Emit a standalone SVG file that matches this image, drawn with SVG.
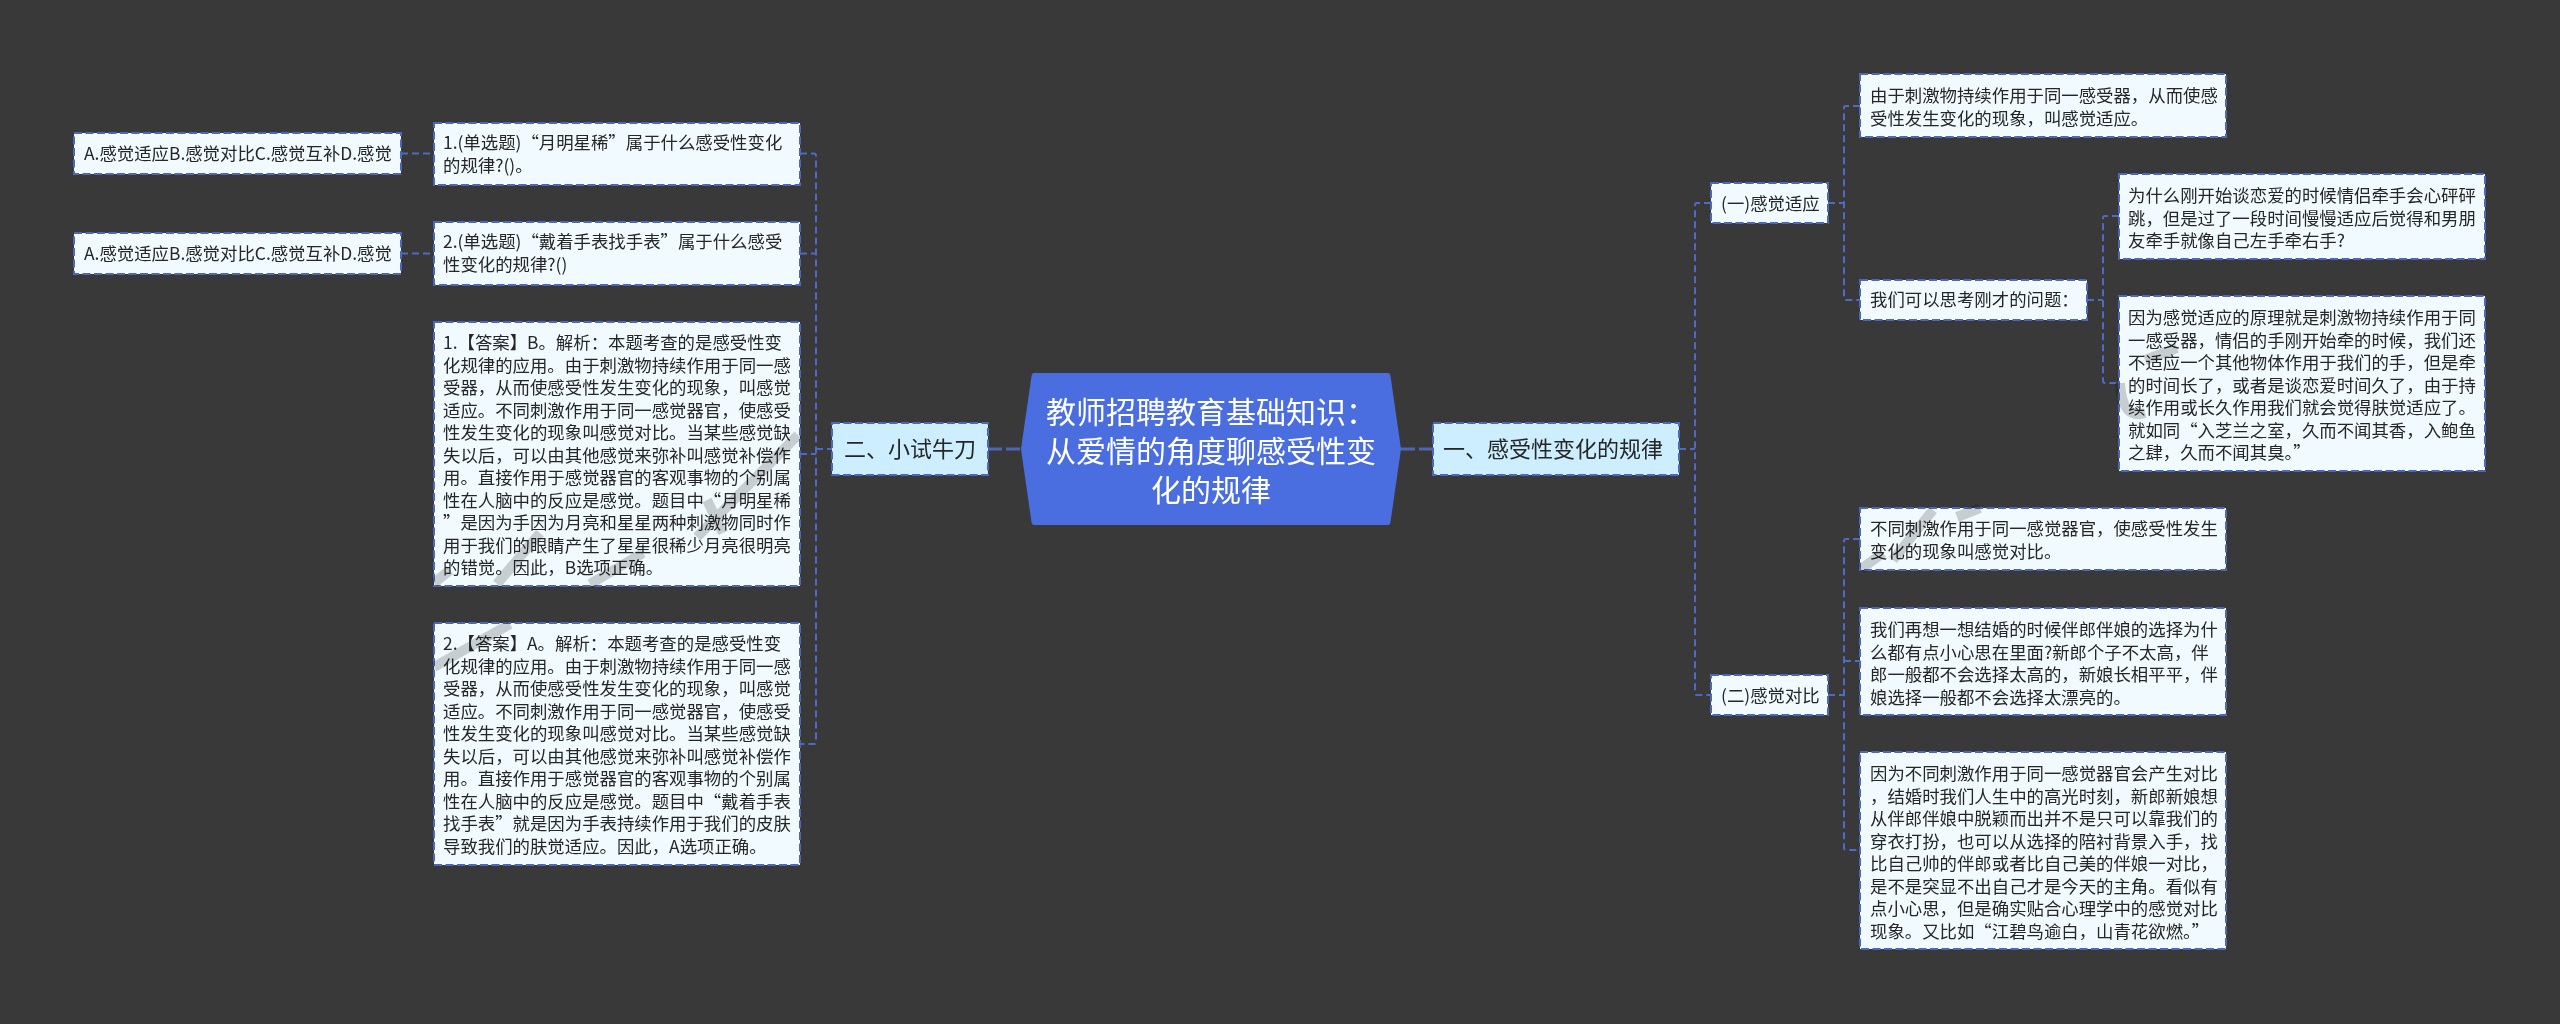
<svg xmlns="http://www.w3.org/2000/svg" width="2560" height="1024" viewBox="0 0 2560 1024">
<style>
text{font-family:"Noto Sans CJK SC","Liberation Sans",sans-serif;fill:#262626;font-size:17.4px}
.n{fill:#f1fbff;stroke:#4b68bd;stroke-width:2;stroke-dasharray:8 3.500}
.m{fill:#cdeeff;stroke:#4b68bd;stroke-width:2;stroke-dasharray:8 3.500}
.c{fill:none;stroke:#4d6bc6;stroke-width:2;stroke-dasharray:7 4}
.l{font-size:22px}
.r{font-size:30px;fill:#fff;text-anchor:middle}
.w{fill:none;stroke:#d2d2d2;stroke-width:10;mix-blend-mode:multiply}
</style>
<rect width="2560" height="1024" fill="#3a393a"/>
<g id="connectors">
<path class="c" d="M401 153.500H434M401 253.500H434"/>
<path class="c" d="M800 153.500H814Q816 153.500 816 156V742Q816 744 814 744H800M800 253.500H816M800 454H816M816 449H832"/>
<path d="M988 449H1021M1401 449H1433" fill="none" stroke="#4b66b5" stroke-width="3" stroke-dasharray="14 4"/>
<path class="c" d="M1679 449H1695M1711 203H1697Q1695 203 1695 205V693Q1695 695 1697 695H1711"/>
<path class="c" d="M1828 203H1844M1860 106H1846Q1844 106 1844 108V298Q1844 300 1846 300H1860"/>
<path class="c" d="M2087 300H2103M2119 216H2105Q2103 216 2103 218V381Q2103 383 2105 383H2119"/>
<path class="c" d="M1828 695H1844M1860 539H1846Q1844 539 1844 541V848Q1844 850 1846 850H1860M1844 661H1860"/>
</g>
<g id="root"><path d="M1034 373H1388Q1390 373 1390.500 376L1401 449L1390.500 522Q1390 525 1388 525H1034Q1032 525 1031.500 522L1021 449L1031.500 376Q1032 373 1034 373Z" fill="#4a6ee0"/>
<text class="r" x="1211" y="423">教师招聘教育基础知识：</text><text class="r" x="1211" y="462">从爱情的角度聊感受性变</text><text class="r" x="1211" y="501">化的规律</text></g>
<g id="n2"><rect class="m" x="832" y="423" width="156" height="52"/><text class="l" x="844" y="457">二、小试牛刀</text></g>
<g id="n1"><rect class="m" x="1433" y="423" width="246" height="52"/><text class="l" x="1443" y="457">一、感受性变化的规律</text></g>
<g id="a1"><rect class="n" x="74" y="133" width="327" height="41"/><text x="84" y="160">A.感觉适应B.感觉对比C.感觉互补D.感觉</text></g>
<g id="a2"><rect class="n" x="74" y="233" width="327" height="41"/><text x="84" y="260">A.感觉适应B.感觉对比C.感觉互补D.感觉</text></g>
<g id="q1"><rect class="n" x="434" y="123" width="366" height="62"/><text x="443" y="149">1.(单选题)“月明星稀”属于什么感受性变化</text><text x="443" y="172">的规律?()。</text></g>
<g id="q2"><rect class="n" x="434" y="222" width="366" height="63"/><text x="443" y="248">2.(单选题)“戴着手表找手表”属于什么感受</text><text x="443" y="271">性变化的规律?()</text></g>
<g id="ans1"><rect class="n" x="434" y="322" width="366" height="264"/>
<text x="443" y="349">1.【答案】B。解析：本题考查的是感受性变</text><text x="443" y="371.500">化规律的应用。由于刺激物持续作用于同一感</text><text x="443" y="394">受器，从而使感受性发生变化的现象，叫感觉</text><text x="443" y="416.500">适应。不同刺激作用于同一感觉器官，使感受</text><text x="443" y="439">性发生变化的现象叫感觉对比。当某些感觉缺</text><text x="443" y="461.500">失以后，可以由其他感觉来弥补叫感觉补偿作</text><text x="443" y="484">用。直接作用于感觉器官的客观事物的个别属</text><text x="443" y="506.500">性在人脑中的反应是感觉。题目中“月明星稀</text><text x="443" y="529">”是因为手因为月亮和星星两种刺激物同时作</text><text x="443" y="551.500">用于我们的眼睛产生了星星很稀少月亮很明亮</text><text x="443" y="574">的错觉。因此，B选项正确。</text></g>
<g id="ans2"><rect class="n" x="434" y="623" width="366" height="242"/>
<text x="443" y="650">2.【答案】A。解析：本题考查的是感受性变</text><text x="443" y="672.500">化规律的应用。由于刺激物持续作用于同一感</text><text x="443" y="695">受器，从而使感受性发生变化的现象，叫感觉</text><text x="443" y="717.500">适应。不同刺激作用于同一感觉器官，使感受</text><text x="443" y="740">性发生变化的现象叫感觉对比。当某些感觉缺</text><text x="443" y="762.500">失以后，可以由其他感觉来弥补叫感觉补偿作</text><text x="443" y="785">用。直接作用于感觉器官的客观事物的个别属</text><text x="443" y="807.500">性在人脑中的反应是感觉。题目中“戴着手表</text><text x="443" y="830">找手表”就是因为手表持续作用于我们的皮肤</text><text x="443" y="852.500">导致我们的肤觉适应。因此，A选项正确。</text></g>
<g id="g1"><rect class="n" x="1711" y="183" width="117" height="40"/><text x="1721" y="210">(一)感觉适应</text></g>
<g id="g2"><rect class="n" x="1711" y="675" width="117" height="40"/><text x="1721" y="702">(二)感觉对比</text></g>
<g id="r1"><rect class="n" x="1860" y="74" width="366" height="63"/><text x="1870" y="102">由于刺激物持续作用于同一感受器，从而使感</text><text x="1870" y="124.500">受性发生变化的现象，叫感觉适应。</text></g>
<g id="rq"><rect class="n" x="1860" y="280" width="227" height="40"/><text x="1870" y="306">我们可以思考刚才的问题：</text></g>
<g id="r2"><rect class="n" x="2119" y="174" width="366" height="85"/><text x="2128" y="202">为什么刚开始谈恋爱的时候情侣牵手会心砰砰</text><text x="2128" y="224.500">跳，但是过了一段时间慢慢适应后觉得和男朋</text><text x="2128" y="247">友牵手就像自己左手牵右手?</text></g>
<g id="r3"><rect class="n" x="2119" y="296" width="366" height="175"/><text x="2128" y="324">因为感觉适应的原理就是刺激物持续作用于同</text><text x="2128" y="346.500">一感受器，情侣的手刚开始牵的时候，我们还</text><text x="2128" y="369">不适应一个其他物体作用于我们的手，但是牵</text><text x="2128" y="391.500">的时间长了，或者是谈恋爱时间久了，由于持</text><text x="2128" y="414">续作用或长久作用我们就会觉得肤觉适应了。</text><text x="2128" y="436.500">就如同“入芝兰之室，久而不闻其香，入鲍鱼</text><text x="2128" y="459">之肆，久而不闻其臭。”</text></g>
<g id="s1"><rect class="n" x="1860" y="508" width="366" height="62"/><text x="1870" y="535">不同刺激作用于同一感觉器官，使感受性发生</text><text x="1870" y="558">变化的现象叫感觉对比。</text></g>
<g id="s2"><rect class="n" x="1860" y="608" width="366" height="107"/><text x="1870" y="636">我们再想一想结婚的时候伴郎伴娘的选择为什</text><text x="1870" y="658.500">么都有点小心思在里面?新郎个子不太高，伴</text><text x="1870" y="681">郎一般都不会选择太高的，新娘长相平平，伴</text><text x="1870" y="703.500">娘选择一般都不会选择太漂亮的。</text></g>
<g id="s3"><rect class="n" x="1860" y="752" width="366" height="197"/><text x="1870" y="780">因为不同刺激作用于同一感觉器官会产生对比</text><text x="1870" y="802.500">，结婚时我们人生中的高光时刻，新郎新娘想</text><text x="1870" y="825">从伴郎伴娘中脱颖而出并不是只可以靠我们的</text><text x="1870" y="847.500">穿衣打扮，也可以从选择的陪衬背景入手，找</text><text x="1870" y="870">比自己帅的伴郎或者比自己美的伴娘一对比，</text><text x="1870" y="892.500">是不是突显不出自己才是今天的主角。看似有</text><text x="1870" y="915">点小心思，但是确实贴合心理学中的感觉对比</text><text x="1870" y="937.500">现象。又比如“江碧鸟逾白，山青花欲燃。”</text></g>
<g id="marks">
<path class="w" d="M434 583L450 570M497 584L540 533M590 584L643 553M697 537L798 435M707 500L723 533M434 667L510 624"/>
<path class="w" d="M1861 569L1883 553M1893 560L1933 510M1957 517L1980 508"/>
<path class="w" d="M2145 360L2177 348M2120 383Q2122 420 2145 413"/>
</g>
</svg>
